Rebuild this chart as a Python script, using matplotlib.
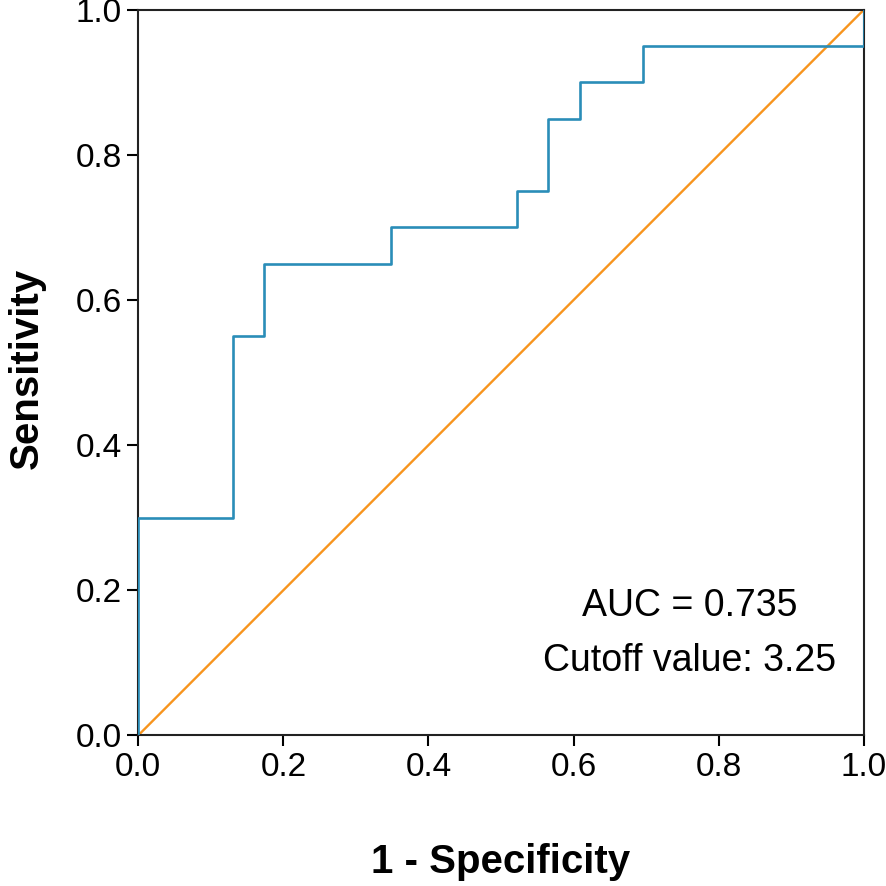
import matplotlib
matplotlib.use("Agg")
import matplotlib.pyplot as plt

# ROC curve vertices (1 - specificity, sensitivity)
FPR = [0.0, 0.0, 3/23, 3/23, 4/23, 4/23, 8/23, 8/23, 12/23, 12/23, 13/23, 13/23,
       14/23, 14/23, 16/23, 16/23, 1.0, 1.0]
TPR = [0.0, 0.30, 0.30, 0.55, 0.55, 0.65, 0.65, 0.70, 0.70, 0.75, 0.75, 0.85,
       0.85, 0.90, 0.90, 0.95, 0.95, 1.0]
REF = [0.0, 1.0]
AUC_TEXT = "AUC = 0.735"
CUTOFF_TEXT = "Cutoff value: 3.25"
TICKS = [0.0, 0.2, 0.4, 0.6, 0.8, 1.0]

plt.rcParams["font.family"] = ["Liberation Sans", "DejaVu Sans"]

fig = plt.figure(figsize=(8.86, 8.86), dpi=100)
ax = fig.add_axes([0.156, 0.170, 0.819, 0.819])

ax.plot(REF, REF, color="#f7941d", lw=1.7, zorder=2)
ax.plot(FPR, TPR, color="#2a8db8", lw=1.9, zorder=3)

ax.set_xlim(0, 1)
ax.set_ylim(0, 1)
ax.set_xticks(TICKS)
ax.set_yticks(TICKS)
ax.set_xticklabels([f"{t:.1f}" for t in TICKS])
ax.set_yticklabels([f"{t:.1f}" for t in TICKS])
ax.tick_params(direction="out", length=8, width=1.5, labelsize=24, pad=4)
for s in ax.spines.values():
    s.set_linewidth(1.5)
    s.set_color("#222222")

ax.set_xlabel("1 - Specificity", fontsize=29, fontweight="bold")
ax.set_ylabel("Sensitivity", fontsize=29, fontweight="bold")
ax.xaxis.set_label_coords(0.5, -0.174)
ax.xaxis.label.set_va("center")
ax.yaxis.set_label_coords(-0.154, 0.505)
ax.yaxis.label.set_va("center")

ax.text(0.76, 0.178, AUC_TEXT, fontsize=27, ha="center", va="center")
ax.text(0.76, 0.103, CUTOFF_TEXT, fontsize=27, ha="center", va="center")

fig.savefig("out.png", dpi=100)
